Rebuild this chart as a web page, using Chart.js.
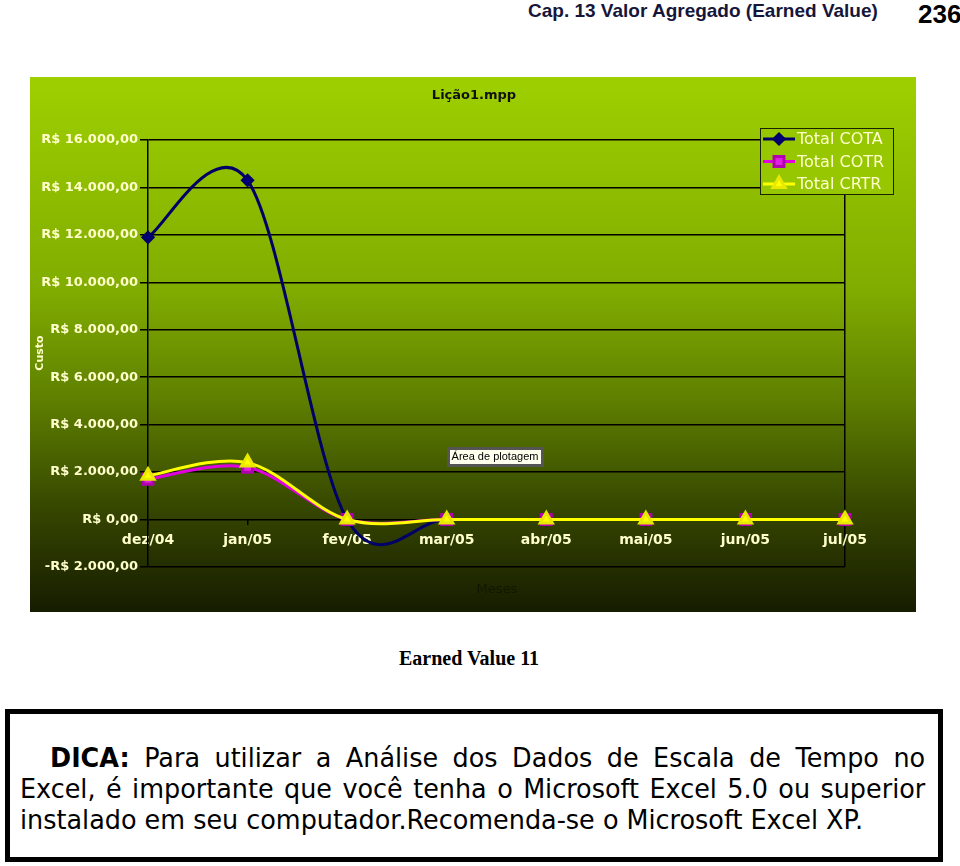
<!DOCTYPE html>
<html>
<head>
<meta charset="utf-8">
<script src="https://cdn.jsdelivr.net/npm/chart.js@4.4.1/dist/chart.umd.min.js"></script>
<style>
  body { margin: 0; width: 960px; height: 866px; background: #fff; position: relative; overflow: hidden; }
  #cap { position: absolute; left: 528px; top: 1px; font: bold 19px/19px "Liberation Sans", Arial, sans-serif; color: #16163a; white-space: nowrap; }
  #pag { position: absolute; left: 918px; top: 1px; font: bold 26px/26px "Liberation Sans", Arial, sans-serif; color: #000; }
  #wrap { position: absolute; left: 30px; top: 77px; width: 886px; height: 535px; }
  #fig { position: absolute; left: 399px; top: 648px; font: bold 20px/20px "Liberation Serif", serif; color: #000; white-space: nowrap; }
  #dica { position: absolute; left: 5px; top: 709px; width: 938px; height: 153px; border: 5px solid #000; box-sizing: border-box; }
  .ln { position: absolute; font: 27px/31px "DejaVu Sans", sans-serif; color: #000; white-space: nowrap; transform: scaleX(0.943); transform-origin: 0 0; }
  .just { text-align: justify; text-align-last: justify; }
</style>
</head>
<body>
<div id="cap">Cap. 13 Valor Agregado (Earned Value)</div>
<div id="pag">236</div>
<div id="wrap"><canvas id="evChart" width="886" height="535"></canvas></div>
<div id="fig">Earned Value 11</div>
<div id="dica">
  <div class="ln just" style="left:40px; top:28px; width:928px;"><b>DICA:</b> Para utilizar a Análise dos Dados de Escala de Tempo no</div>
  <div class="ln just" style="left:10px; top:59px; width:960px;">Excel, é importante que você tenha o Microsoft Excel 5.0 ou superior</div>
  <div class="ln" style="left:10px; top:90px;">instalado em seu computador.Recomenda-se o Microsoft Excel XP.</div>
</div>
<script>
const meses = ['dez/04', 'jan/05', 'fev/05', 'mar/05', 'abr/05', 'mai/05', 'jun/05', 'jul/05'];
const totalCOTA = [11900, 14300, 0, 0, 0, 0, 0, 0];
const totalCOTR = [1700, 2200, 0, 0, 0, 0, 0, 0];
const totalCRTR = [1850, 2400, 0, 0, 0, 0, 0, 0];
const nomes = ['Total COTA', 'Total COTR', 'Total CRTR'];
const yMin = -2000, yMax = 16000, yPasso = 2000;

const creme = '#ffffcc';

function reais(v) {
    const s = Math.abs(v).toFixed(0).replace(/\B(?=(\d{3})+(?!\d))/g, '.');
    return (v < 0 ? '-' : '') + 'R$ ' + s + ',00';
}

// fundo degrade verde -> preto, igual ao do Excel
const fundo = {
    id: 'fundo',
    beforeDraw(chart) {
        const c = chart.ctx;
        const g = c.createLinearGradient(0, 0, 0, chart.height);
        g.addColorStop(0, 'rgb(158,208,0)');
        g.addColorStop(0.4, 'rgb(128,172,0)');
        g.addColorStop(0.6, 'rgb(95,128,0)');
        g.addColorStop(0.8, 'rgb(55,72,0)');
        g.addColorStop(1, 'rgb(22,28,0)');
        c.save();
        c.fillStyle = g;
        c.fillRect(0, 0, chart.width, chart.height);
        c.restore();
    }
};

// linha suavizada como no Excel (pontos de controle = vizinhos / 6)
const suaviza = {
    id: 'suaviza',
    beforeDatasetDraw(chart, args) {
        const meta = args.meta;
        meta.dataset.updateControlPoints(chart.chartArea, 'x');
        const pts = meta.data;
        pts.forEach((p, i) => {
            const a = pts[i - 1] || p;
            const b = pts[i + 1] || p;
            const dx = (b.x - a.x) / 6, dy = (b.y - a.y) / 6;
            p.cp1x = p.x - dx; p.cp1y = p.y - dy;
            p.cp2x = p.x + dx; p.cp2y = p.y + dy;
        });
    }
};

// titulo, rotulos dos eixos, legenda e a dica "Area de plotagem"
const extras = {
    id: 'extras',
    afterDraw(chart) {
        const c = chart.ctx;
        c.save();
        c.textAlign = 'center';
        c.textBaseline = 'middle';
        c.fillStyle = '#111';
        c.font = 'bold 13px "DejaVu Sans"';
        c.fillText('Lição1.mpp', 444, 19);

        c.fillStyle = 'rgba(0,0,0,0.4)';
        c.font = '13px "DejaVu Sans"';
        c.fillText('Meses', 467, 513);

        c.save();
        c.translate(10, 276);
        c.rotate(-Math.PI / 2);
        c.fillStyle = creme;
        c.font = 'bold 11px "DejaVu Sans"';
        c.fillText('Custo', 0, 0);
        c.restore();

        // legenda
        c.fillStyle = 'rgb(150,199,0)';
        c.fillRect(730, 51, 133, 66);
        c.strokeStyle = '#1a2200';
        c.lineWidth = 1;
        c.strokeRect(730.5, 51.5, 133, 66);
        chart.data.datasets.forEach((ds, i) => {
            const y = 62 + i * 22.5;
            c.strokeStyle = ds.borderColor;
            c.lineWidth = 3;
            c.beginPath();
            c.moveTo(733, y);
            c.lineTo(765, y);
            c.stroke();
            c.fillStyle = ds.pointBackgroundColor;
            c.strokeStyle = ds.pointBorderColor;
            Chart.helpers.drawPoint(c, {pointStyle: ds.pointStyle, radius: ds.pointRadius, rotation: 0, borderWidth: 1}, 749, y);
            c.fillStyle = creme;
            c.font = '16px "DejaVu Sans"';
            c.textAlign = 'left';
            c.fillText(ds.label, 767, y + 1);
        });

        // caixa "Area de plotagem"
        c.fillStyle = '#ffffee';
        c.fillRect(418, 371, 94, 17);
        c.strokeStyle = '#555';
        c.strokeRect(418.5, 371.5, 94, 17);
        c.fillStyle = '#000';
        c.font = '11px "Liberation Sans"';
        c.textAlign = 'center';
        c.fillText('Área de plotagem', 465, 380);
        c.restore();
    }
};

const ev = document.getElementById('evChart').getContext('2d');

const evChart = new Chart(ev, {
    type: 'line',
    data: {
        labels: meses,
        datasets: [
            {
                label: nomes[0],
                data: totalCOTA,
                borderColor: '#000066',
                backgroundColor: '#000066',
                pointBackgroundColor: '#000080',
                pointBorderColor: '#000066',
                pointStyle: 'rectRot',
                pointRadius: 5,
                borderWidth: 3,
                tension: 0.4,
                order: 3
            },
            {
                label: nomes[1],
                data: totalCOTR,
                borderColor: '#e000e0',
                backgroundColor: '#e000e0',
                pointBackgroundColor: '#e020e0',
                pointBorderColor: '#b000b0',
                pointStyle: 'rect',
                pointRadius: 7,
                borderWidth: 3,
                tension: 0.4,
                order: 2
            },
            {
                label: nomes[2],
                data: totalCRTR,
                borderColor: '#ffff00',
                backgroundColor: '#ffff00',
                pointBackgroundColor: '#ffff00',
                pointBorderColor: '#e8e800',
                pointStyle: 'triangle',
                pointRadius: 7,
                borderWidth: 3,
                tension: 0.4,
                order: 1
            }
        ]
    },
    options: {
        responsive: false,
        animation: false,
        layout: {
            padding: {left: 0, right: 71, top: 63, bottom: 45}
        },
        plugins: {
            legend: {display: false},
            tooltip: {enabled: false}
        },
        scales: {
            x: {
                position: {y: 0},
                offset: false,
                grid: {
                    color: (c) => c.index === meses.length - 1 ? '#000' : 'rgba(0,0,0,0)',
                    tickColor: '#000',
                    tickLength: 5,
                    lineWidth: 1.5
                },
                border: {display: false},
                ticks: {
                    color: creme,
                    padding: 7,
                    maxRotation: 0,
                    font: {family: 'DejaVu Sans', weight: 'bold', size: 14}
                }
            },
            y: {
                min: yMin,
                max: yMax,
                afterFit: (s) => { s.width = 118; },
                grid: {
                    color: '#000',
                    lineWidth: 1.5,
                    tickLength: 8
                },
                border: {color: '#000', width: 1.5},
                ticks: {
                    stepSize: yPasso,
                    padding: 2,
                    color: creme,
                    callback: (v) => reais(v),
                    font: {family: 'DejaVu Sans', weight: 'bold', size: 13}
                }
            }
        }
    },
    plugins: [fundo, suaviza, extras]
});
</script>
</body>
</html>
